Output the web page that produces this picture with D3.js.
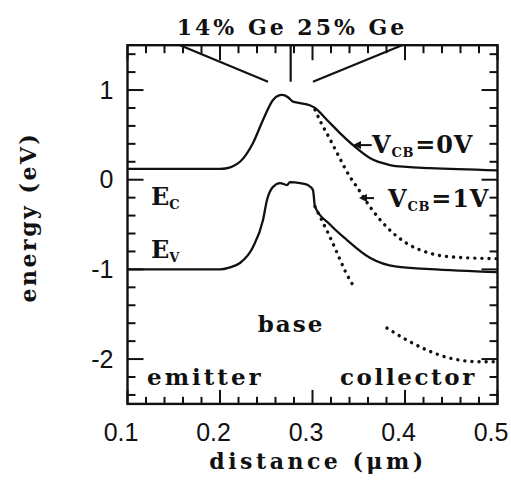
<!DOCTYPE html>
<html lang="en">
  <head>
    <meta charset="UTF-8" />
    <script src="https://d3js.org/d3.v7.min.js"></script>
    <title>band diagram</title>
    <style>
      body { margin: 0; background: #fff; }
      .lbl { font-family: "DejaVu Serif", serif; font-weight: bold; fill: #111; }
      .num { font-family: "Liberation Sans", Arial, sans-serif; font-size: 25px; fill: #111; }
    </style>
  </head>
  <body>
    <div id="chart"></div>
    <script>
      // conduction band edge, V_CB = 0 V (solid)
      var ecZero = [
        [0.1, 0.12], [0.2, 0.12], [0.206, 0.125], [0.214, 0.15], [0.2216, 0.2],
        [0.2357, 0.41], [0.2465, 0.666], [0.2573, 0.889], [0.2625, 0.935],
        [0.267, 0.945], [0.2735, 0.92], [0.2789, 0.87], [0.2865, 0.855],
        [0.297, 0.83], [0.3027, 0.8], [0.3157, 0.666], [0.3297, 0.52],
        [0.3438, 0.386], [0.362, 0.242], [0.3838, 0.164], [0.402, 0.142],
        [0.427, 0.13], [0.5, 0.105]
      ];
      // conduction band edge, V_CB = 1 V (dotted)
      var ecOne = [
        [0.3027, 0.78], [0.31, 0.62], [0.318, 0.47], [0.325, 0.33],
        [0.333, 0.17], [0.34, 0.04], [0.348, -0.08], [0.362, -0.3],
        [0.3805, -0.53], [0.402, -0.71], [0.427, -0.82], [0.456, -0.865],
        [0.5, -0.88]
      ];
      // valence band edge, V_CB = 0 V (solid)
      var evZero = [
        [0.1, -1.0], [0.2, -1.0], [0.21, -0.98], [0.2216, -0.929],
        [0.2357, -0.75], [0.2465, -0.45], [0.2508, -0.226], [0.2573, -0.08],
        [0.265, -0.037], [0.2724, -0.06], [0.2757, -0.026], [0.2865, -0.037],
        [0.2951, -0.06], [0.3005, -0.115], [0.3027, -0.3], [0.3189, -0.5],
        [0.337, -0.67], [0.362, -0.87], [0.391, -0.97], [0.427, -0.996],
        [0.5, -1.03]
      ];
      // valence band edge, V_CB = 1 V (dotted, two pieces)
      var evOneA = [[0.3027, -0.3], [0.3189, -0.64], [0.3405, -1.12], [0.346, -1.21]];
      var evOneB = [
        [0.3805, -1.654], [0.402, -1.788], [0.4238, -1.9], [0.4486, -1.99],
        [0.481, -2.03], [0.4995, -2.03]
      ];
      // Ge profile marks along the top
      var geMarks = [
        [[0.1568, 1.5], [0.2519, 1.093]],
        [[0.2764, 1.5], [0.2764, 1.093]],
        [[0.3005, 1.093], [0.3968, 1.5]]
      ];
      var xTicks = [0.1, 0.2, 0.3, 0.4, 0.5];
      var yTicks = [-2, -1, 0, 1];

      var width = 511, height = 482;
      var x = d3.scaleLinear().domain([0.1, 0.5]).range([127.5, 497.5]);
      var y = d3.scaleLinear().domain([-2.5, 1.5]).range([403.9, 45.2]);

      var svg = d3.select("#chart").append("svg")
        .attr("width", width).attr("height", height);

      var xMinor = d3.range(0.1, 0.5001, 0.02), yMinor = d3.range(-2.4, 1.5, 0.2);
      function isMajor(v) { return Math.abs(v - Math.round(v)) < 1e-6; }

      // tick labels
      svg.append("g").attr("transform", "translate(0," + y(-2.5) + ")")
        .call(d3.axisBottom(x).tickValues(xTicks).tickSize(0).tickPadding(19)
          .tickFormat(d3.format(".1f")))
        .call(function (g) {
          g.select(".domain").remove();
          g.selectAll("text").attr("class", "num").attr("dx", -7);
        });
      svg.append("g").attr("transform", "translate(" + x(0.1) + ",0)")
        .call(d3.axisLeft(y).tickValues(yTicks).tickSize(0).tickPadding(14)
          .tickFormat(function (d) { return String(d); }))
        .call(function (g) {
          g.select(".domain").remove();
          g.selectAll("text").attr("class", "num");
        });

      var line = d3.line()
        .x(function (d) { return x(d[0]); })
        .y(function (d) { return y(d[1]); })
        .curve(d3.curveMonotoneX);

      [ecZero, evZero].forEach(function (s) {
        svg.append("path").datum(s).attr("d", line)
          .attr("fill", "none").attr("stroke", "#111").attr("stroke-width", 2.3);
      });
      [ecOne, evOneA, evOneB].forEach(function (s) {
        svg.append("path").datum(s).attr("d", line)
          .attr("fill", "none").attr("stroke", "#111").attr("stroke-width", 3.4)
          .attr("stroke-linecap", "round").attr("stroke-dasharray", "0.1 7");
      });

      svg.selectAll("line.ge").data(geMarks).enter().append("line")
        .attr("class", "ge")
        .attr("x1", function (d) { return x(d[0][0]); })
        .attr("y1", function (d) { return y(d[0][1]); })
        .attr("x2", function (d) { return x(d[1][0]); })
        .attr("y2", function (d) { return y(d[1][1]); })
        .attr("stroke", "#111").attr("stroke-width", 2.2);

      function label(txt, px, py, size, opts) {
        opts = opts || {};
        return svg.append("text").attr("class", "lbl")
          .attr("x", px).attr("y", py)
          .attr("font-size", size)
          .attr("letter-spacing", opts.ls || 0)
          .attr("text-anchor", opts.anchor || "start")
          .text(txt);
      }

      label("14% Ge 25% Ge", 292, 35, 22, { anchor: "middle", ls: 3 });
      label("distance (\u03bcm)", 318, 469, 22, { anchor: "middle", ls: 3.5 });
      label("energy (eV)", 0, 0, 22, { anchor: "middle", ls: 2.5 })
        .attr("transform", "translate(36,217) rotate(-90)");
      label("base", 291, 332, 23, { anchor: "middle", ls: 2 });
      label("emitter", 147, 385, 23, { ls: 3 });
      label("collector", 340, 385, 23, { ls: 2.6 });

      function subLabel(main, sub, rest, px, py, ls) {
        var t = label(main, px, py, 24, { ls: ls || 0 });
        t.append("tspan").attr("font-size", 13).attr("dy", 4).text(sub);
        if (rest) t.append("tspan").attr("dy", -4).attr("dx", 1).text(rest);
        return t;
      }
      subLabel("E", "C", null, 151, 205);
      subLabel("E", "V", null, 151, 258);
      subLabel("V", "CB", "=0V", 372, 153, 0.8);
      subLabel("V", "CB", "=1V", 388, 207, 0.8);

      // arrows pointing at the curves
      var arrows = [[0.3438, 0.386, 0.3640, 0.386], [0.3502, -0.205, 0.3665, -0.205]];
      arrows.forEach(function (a) {
        var x1 = x(a[0]), y1 = y(a[1]), x2 = x(a[2]);
        svg.append("line").attr("x1", x1 + 6).attr("y1", y1).attr("x2", x2).attr("y2", y1)
          .attr("stroke", "#111").attr("stroke-width", 2);
        svg.append("path")
          .attr("d", "M" + x1 + "," + y1 + "l8,-4l0,8z")
          .attr("fill", "#111");
      });

      // inward ticks on all four sides, as small filled bars [x, y, w, h]
      var bars = [];
      xMinor.forEach(function (d) {
        var len = isMajor(d * 10) ? 14 : 7;
        bars.push([x(d) - 1, y(-2.5) - len, 2, len]);
        bars.push([x(d) - 1, y(1.5), 2, len + 1]);
      });
      yMinor.forEach(function (d) {
        var len = isMajor(d) ? 16 : 8;
        bars.push([x(0.1), y(d) - 1, len, 2]);
        bars.push([x(0.5) - len, y(d) - 1, len, 2]);
      });
      svg.selectAll("rect.tk").data(bars).enter().append("rect")
        .attr("class", "tk")
        .attr("x", function (d) { return d[0]; })
        .attr("y", function (d) { return d[1]; })
        .attr("width", function (d) { return d[2]; })
        .attr("height", function (d) { return d[3]; })
        .attr("fill", "#111");

      // frame
      svg.append("rect")
        .attr("x", x(0.1)).attr("y", y(1.5))
        .attr("width", x(0.5) - x(0.1)).attr("height", y(-2.5) - y(1.5))
        .attr("fill", "none").attr("stroke", "#111").attr("stroke-width", 2.4);
    </script>
  </body>
</html>
